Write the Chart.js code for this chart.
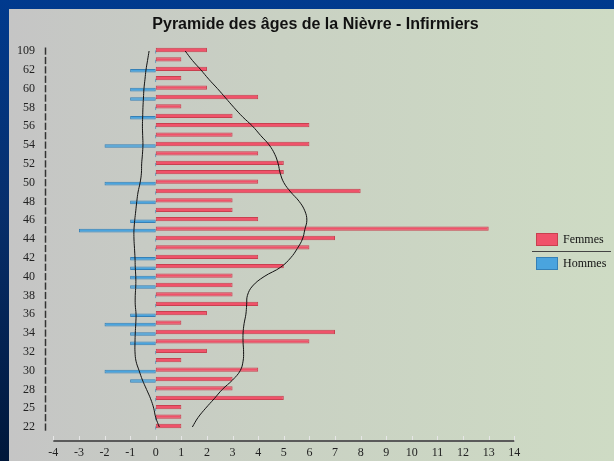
<!DOCTYPE html>
<html>
<head>
<meta charset="utf-8">
<script src="https://cdn.jsdelivr.net/npm/chart.js@4.4.0/dist/chart.umd.min.js"></script>
<style>
    html, body { margin: 0; padding: 0; }
    body {
        width: 614px; height: 461px; overflow: hidden; position: relative;
        background: linear-gradient(180deg, #003a8e 0%, #072f6c 45%, #00173a 100%);
    }
    #panel {
        position: absolute; left: 9px; top: 9px; width: 605px; height: 452px;
        background: linear-gradient(90deg, #c5c5c5 0%, #c9d1c3 45%, #cedbc4 100%);
    }
    #panel canvas { position: absolute; left: 0; top: 0; }
    #legend {
        position: absolute; left: 523px; top: 224px; width: 80px; height: 40px;
        font: 12px 'Liberation Serif', serif; color: #111;
    }
    #legend .item { position: absolute; left: 4px; height: 13px; line-height: 13px; white-space: nowrap; }
    #legend .box { position: absolute; left: 0; top: 0; width: 22px; height: 13px; box-sizing: border-box; border: 1px solid; }
    #legend .txt { position: absolute; left: 27px; top: 0; }
    #legend .sep { position: absolute; left: 0; top: 18px; width: 79px; height: 1px; background: #444; }
</style>
</head>
<body>
<div id="panel">
    <canvas id="pyramide" width="605" height="452"></canvas>
    <div id="legend"></div>
</div>
<script>
// Tranches d'âge (de haut en bas)
const ages = ['109', '63', '62', '61', '60', '59', '58', '57', '56', '55', '54', '53', '52', '51',
    '50', '49', '48', '47', '46', '45', '44', '43', '42', '41', '40', '39', '38', '37', '36', '35',
    '34', '33', '32', '31', '30', '29', '28', '27', '25', '24', '22'];

// Effectifs
const femmes = [2, 1, 2, 1, 2, 4, 1, 3, 6, 3, 6, 4, 5, 5, 4, 8, 3, 3, 4, 13, 7, 6, 4, 5, 3, 3,
    3, 4, 2, 1, 7, 6, 2, 1, 4, 3, 3, 5, 1, 1, 1];
const hommes = [0, 0, -1, 0, -1, -1, 0, -1, 0, 0, -2, 0, 0, 0, -2, 0, -1, 0, -1, -3, 0, 0, -1, -1,
    -1, -1, 0, 0, -1, -2, -1, -1, 0, 0, -2, -1, 0, 0, 0, 0, 0];

// Courbes lissées
const courbeFemmes = [1.15, 1.43, 1.76, 2.07, 2.41, 2.73, 3.05, 3.39, 3.78, 4.1, 4.43, 4.65, 4.78,
    4.86, 5.0, 5.27, 5.6, 5.82, 5.9, 5.82, 5.73, 5.53, 5.27, 4.88, 4.23, 3.78, 3.58, 3.55, 3.52,
    3.45, 3.41, 3.41, 3.43, 3.41, 3.3, 3.0, 2.6, 2.28, 1.95, 1.65, 1.43];
const courbeHommes = [-0.26, -0.32, -0.38, -0.42, -0.46, -0.48, -0.5, -0.51, -0.52, -0.51, -0.5,
    -0.52, -0.55, -0.56, -0.61, -0.69, -0.74, -0.78, -0.82, -0.85, -0.85, -0.83, -0.81, -0.8,
    -0.78, -0.78, -0.8, -0.8, -0.77, -0.78, -0.8, -0.81, -0.81, -0.77, -0.65, -0.52, -0.36, -0.2,
    -0.08, 0.0, 0.14];

// Graduations de l'axe horizontal
const xTicks = [-4, -3, -2, -1, 0, 1, 2, 3, 4, 5, 6, 7, 8, 9, 10, 11, 12, 13, 14];

const serif = { family: "'Liberation Serif', 'Times New Roman', serif", size: 12 };

// Axes dessinés à la main : axe vertical en tirets, axe horizontal sous les barres
const axes = {
    id: 'axes',
    afterDraw(chart) {
        const ctx = chart.ctx;
        const x = chart.scales.x;
        const yScale = chart.scales.y;
        const area = chart.chartArea;
        const y = area.bottom + 9.3;
        const step = (area.bottom - area.top) / ages.length;
        ctx.save();
        // axe vertical : un tiret par tranche
        ctx.strokeStyle = '#333';
        ctx.lineWidth = 1.5;
        ages.forEach(function(a, i) {
            const c = yScale.getPixelForValue(i);
            ctx.beginPath();
            ctx.moveTo(area.left - 0.5, c - step / 2 + 1.2);
            ctx.lineTo(area.left - 0.5, c + step / 2 - 1);
            ctx.stroke();
        });
        // graduations
        ctx.strokeStyle = '#e6e6e6';
        ctx.lineWidth = 1;
        xTicks.forEach(function(v) {
            const px = Math.round(x.getPixelForValue(v)) + 0.5;
            ctx.beginPath();
            ctx.moveTo(px, y - 5);
            ctx.lineTo(px, y);
            ctx.stroke();
        });
        ctx.strokeStyle = '#5a5a5a';
        ctx.lineWidth = 2;
        ctx.beginPath();
        ctx.moveTo(x.getPixelForValue(xTicks[0]), y);
        ctx.lineTo(x.getPixelForValue(xTicks[xTicks.length - 1]), y);
        ctx.stroke();
        ctx.restore();
    }
};

const chart = new Chart(document.getElementById('pyramide'), {
    type: 'bar',
    data: {
        labels: ages,
        datasets: [{
            type: 'line',
            label: 'Courbe femmes',
            data: courbeFemmes,
            borderColor: '#111',
            borderWidth: 1,
            pointRadius: 0,
            tension: 0.4,
            fill: false,
            order: 0
        }, {
            type: 'line',
            label: 'Courbe hommes',
            data: courbeHommes,
            borderColor: '#111',
            borderWidth: 1,
            pointRadius: 0,
            tension: 0.4,
            fill: false,
            order: 0
        }, {
            label: 'Femmes',
            data: femmes,
            backgroundColor: '#f0526a',
            borderColor: '#c8404f',
            borderWidth: 1,
            borderSkipped: false,
            categoryPercentage: 0.425,
            barPercentage: 2.15,
            order: 1
        }, {
            label: 'Hommes',
            data: hommes,
            backgroundColor: '#4aa4de',
            borderColor: '#3580b6',
            borderWidth: 1,
            borderSkipped: false,
            minBarLength: 1,
            categoryPercentage: 0.425,
            barPercentage: 1.8,
            order: 1
        }]
    },
    options: {
        indexAxis: 'y',
        responsive: false,
        animation: false,
        devicePixelRatio: 1,
        layout: { padding: { left: 8, right: 0, top: 0, bottom: 0 } },
        scales: {
            y: {
                type: 'category',
                offset: true,
                grid: { display: false, drawTicks: false },
                border: { display: false },
                ticks: {
                    autoSkip: false,
                    font: serif,
                    color: '#222',
                    padding: 11,
                    callback: function(v, i) {
                        return i % 2 === 0 ? this.getLabelForValue(v) : '';
                    }
                },
                afterFit: function(s) { s.width = 29; }
            },
            x: {
                type: 'linear',
                position: 'bottom',
                min: -4.285,
                max: 14,
                grid: { display: false, drawTicks: false },
                border: { display: false },
                ticks: { autoSkip: false, maxRotation: 0, font: serif, color: '#222', padding: 14 },
                afterBuildTicks: function(s) {
                    s.ticks = xTicks.map(function(v) { return { value: v }; });
                },
                afterFit: function(s) { s.height = 29.3; }
            },
            marge: {
                type: 'linear',
                position: 'right',
                grid: { display: false, drawTicks: false },
                border: { display: false },
                ticks: { display: false },
                afterFit: function(s) { s.width = 99.7; }
            }
        },
        plugins: {
            legend: { display: false },
            tooltip: { enabled: false },
            title: {
                display: true,
                text: 'Pyramide des âges de la Nièvre - Infirmiers',
                color: '#111',
                font: { family: "'Liberation Sans', Arial, sans-serif", size: 16, weight: 'bold' },
                padding: { top: 6.4, bottom: 11.7 }
            }
        }
    },
    plugins: [axes]
});

// Légende HTML construite à partir des séries de barres
const legend = document.getElementById('legend');
chart.data.datasets.filter(function(ds) { return ds.type !== 'line'; }).forEach(function(ds, i) {
    const item = document.createElement('div');
    item.className = 'item';
    item.style.top = (i * 24) + 'px';
    const box = document.createElement('span');
    box.className = 'box';
    box.style.background = ds.backgroundColor;
    box.style.borderColor = ds.borderColor;
    const txt = document.createElement('span');
    txt.className = 'txt';
    txt.textContent = ds.label;
    item.appendChild(box);
    item.appendChild(txt);
    legend.appendChild(item);
    if (i === 0) {
        const sep = document.createElement('div');
        sep.className = 'sep';
        legend.appendChild(sep);
    }
});
</script>
</body>
</html>
